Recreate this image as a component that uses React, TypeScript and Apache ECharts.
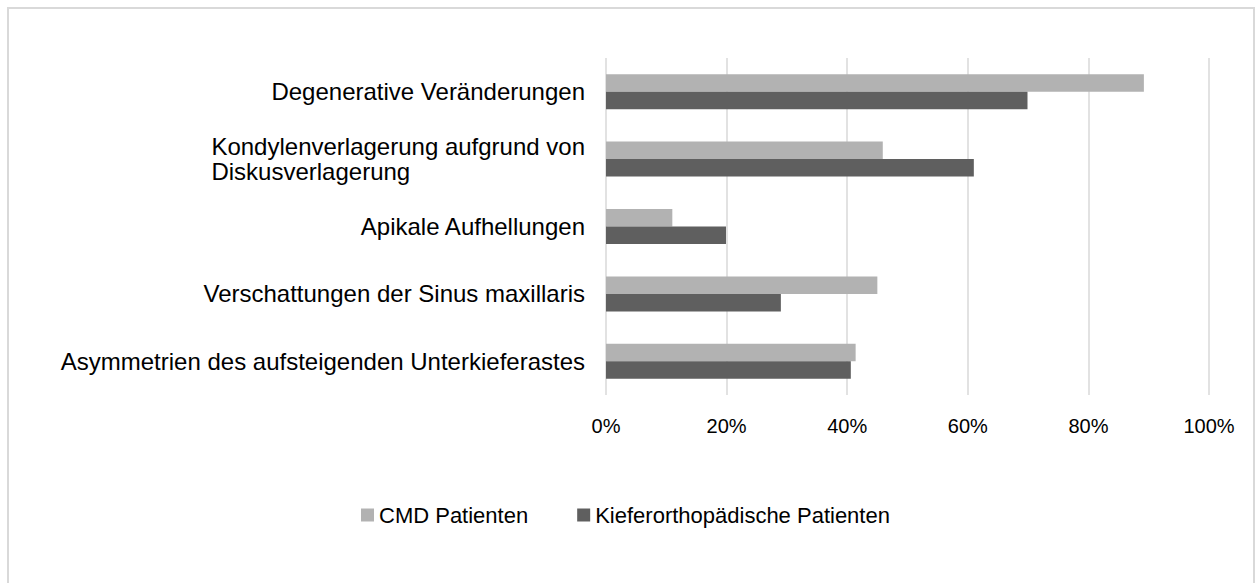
import React, { useEffect, useRef } from "react";
import * as echarts from "echarts";

const categories = [
  "Degenerative Veränderungen",
  "Kondylenverlagerung aufgrund von\nDiskusverlagerung",
  "Apikale Aufhellungen",
  "Verschattungen der Sinus maxillaris",
  "Asymmetrien des aufsteigenden Unterkieferastes",
];
const seriesNames = ["CMD Patienten", "Kieferorthopädische Patienten"];
const cmdValues = [89.2, 45.9, 11.0, 45.0, 41.4];
const kieferValues = [69.9, 61.0, 19.9, 29.0, 40.6];
const xTicks = [0, 20, 40, 60, 80, 100];

export default function App() {
  const ref = useRef<HTMLDivElement>(null);
  useEffect(() => {
    if (!ref.current) return;
    const chart = echarts.init(ref.current, undefined, { renderer: "svg" });
    const font = "'Liberation Sans', Arial, sans-serif";
    chart.setOption({
      animation: false,
      backgroundColor: "#ffffff",
      graphic: [
        {
          type: "rect",
          shape: { x: 8, y: 8, width: 1246, height: 600 },
          style: { fill: "none", stroke: "#d9d9d9", lineWidth: 2 },
          silent: true,
        },
      ],
      grid: { left: 606, right: 46, top: 58, bottom: 188, containLabel: false },
      legend: {
        data: seriesNames,
        left: 361,
        top: 504,
        padding: 0,
        itemWidth: 13,
        itemHeight: 13,
        itemGap: 49,
        icon: "rect",
        textStyle: { fontFamily: font, fontSize: 22, color: "#000000" },
      },
      xAxis: {
        type: "value",
        min: xTicks[0],
        max: xTicks[xTicks.length - 1],
        interval: 20,
        axisLine: { show: false },
        axisTick: { show: false },
        splitLine: { show: true, lineStyle: { color: "#d9d9d9", width: 1.5 } },
        axisLabel: {
          formatter: "{value}%",
          fontFamily: font,
          fontSize: 20,
          color: "#000000",
          margin: 21,
        },
      },
      yAxis: {
        type: "category",
        data: categories,
        inverse: true,
        axisLine: { show: false },
        axisTick: { show: false },
        axisLabel: {
          margin: 21,
          fontFamily: font,
          fontSize: 24,
          color: "#000000",
          lineHeight: 25,
          formatter: (v: string) =>
            v.indexOf("\n") >= 0
              ? v
                  .split("\n")
                  .map((l) => "{l|" + l + "}")
                  .join("\n")
              : v,
          rich: {
            l: {
              fontFamily: font,
              fontSize: 24,
              color: "#000000",
              lineHeight: 25,
              align: "left",
            },
          },
        },
      },
      series: [
        {
          name: seriesNames[0],
          type: "bar",
          data: cmdValues,
          barWidth: 17.5,
          barGap: "0%",
          itemStyle: { color: "#b2b2b2" },
        },
        {
          name: seriesNames[1],
          type: "bar",
          data: kieferValues,
          barWidth: 17.5,
          barGap: "0%",
          itemStyle: { color: "#5f5f5f" },
        },
      ],
    });
    return () => chart.dispose();
  }, []);
  return (
    <div
      ref={ref}
      style={{ position: "absolute", left: 0, top: 0, width: 1255, height: 583 }}
    />
  );
}
